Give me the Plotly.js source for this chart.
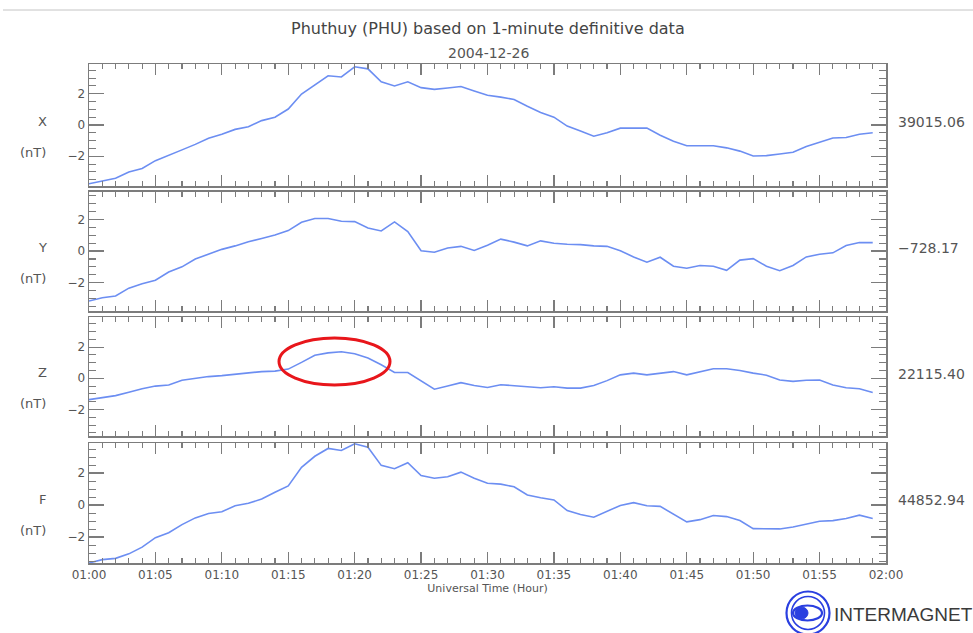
<!DOCTYPE html>
<html>
<head>
<meta charset="utf-8">
<script src="https://cdn.plot.ly/plotly-3.0.1.min.js"></script>
<style>html,body{margin:0;padding:0;background:#fff;}#chart{width:973px;height:633px;}</style>
</head>
<body>
<div id="chart"></div>
<script>
// Minutes after 01:00 UT on 2004-12-26
const minutes = [0,1,2,3,4,5,6,7,8,9,10,11,12,13,14,15,16,17,18,19,20,21,22,23,24,25,26,27,28,29,
                 30,31,32,33,34,35,36,37,38,39,40,41,42,43,44,45,46,47,48,49,50,51,52,53,54,55,56,57,58,59];

// Component variations (nT) relative to the baseline shown at the right
const xValues = [-3.76,-3.59,-3.41,-3.0,-2.78,-2.28,-1.96,-1.59,-1.24,-0.85,-0.59,-0.28,-0.11,0.28,0.5,1.02,1.98,2.54,3.15,3.07,
                 3.72,3.59,2.76,2.5,2.76,2.39,2.28,2.37,2.46,2.17,1.9,1.78,1.63,1.2,0.8,0.5,-0.07,-0.39,-0.72,-0.5,
                 -0.2,-0.2,-0.2,-0.65,-1.04,-1.33,-1.33,-1.33,-1.46,-1.67,-1.98,-1.96,-1.85,-1.74,-1.37,-1.09,-0.83,-0.8,-0.59,-0.5];
const yValues = [-3.17,-2.96,-2.85,-2.35,-2.07,-1.85,-1.33,-1.0,-0.5,-0.17,0.11,0.33,0.59,0.8,1.02,1.3,1.83,2.07,2.07,1.89,
                 1.87,1.46,1.28,1.85,1.24,0.02,-0.07,0.2,0.3,0.04,0.37,0.76,0.57,0.33,0.65,0.5,0.43,0.41,0.33,0.3,
                 0.02,-0.37,-0.7,-0.39,-0.96,-1.09,-0.91,-0.96,-1.22,-0.57,-0.48,-0.96,-1.24,-0.91,-0.37,-0.2,-0.11,0.35,0.54,0.54];
const zValues = [-1.37,-1.24,-1.11,-0.89,-0.67,-0.5,-0.43,-0.13,0.0,0.11,0.17,0.26,0.33,0.43,0.46,0.59,1.02,1.48,1.63,1.7,
                 1.57,1.3,0.87,0.37,0.37,-0.17,-0.7,-0.5,-0.28,-0.46,-0.59,-0.41,-0.46,-0.54,-0.61,-0.54,-0.63,-0.63,-0.46,-0.15,
                 0.22,0.33,0.22,0.33,0.43,0.22,0.41,0.61,0.61,0.5,0.33,0.2,-0.11,-0.2,-0.13,-0.11,-0.43,-0.61,-0.67,-0.91];
const fValues = [-3.62,-3.41,-3.33,-3.05,-2.63,-2.04,-1.73,-1.22,-0.8,-0.53,-0.42,-0.04,0.11,0.38,0.8,1.2,2.36,3.05,3.54,3.41,
                 3.83,3.62,2.48,2.27,2.65,1.85,1.68,1.77,2.06,1.68,1.36,1.31,1.14,0.63,0.46,0.32,-0.34,-0.59,-0.76,-0.38,
                 -0.02,0.15,-0.04,-0.08,-0.59,-1.05,-0.91,-0.65,-0.72,-0.97,-1.47,-1.49,-1.49,-1.37,-1.18,-1.01,-0.97,-0.84,-0.63,-0.84];

const componentNames = ['X','Y','Z','F'];
const baselineLabels = ['39015.06','\u2212728.17','22115.40','44852.94'];
const xTickLabels = ['01:00','01:05','01:10','01:15','01:20','01:25','01:30','01:35','01:40','01:45','01:50','01:55','02:00'];

const W = 973, H = 633;
const px = x => x / W;
const py = y => 1 - y / H;

const times = minutes.map(m => '2004-12-26 01:' + String(m).padStart(2,'0'));
const series = [xValues, yValues, zValues, fValues];

const lineColor = 'rgb(108,142,242)';
const frameColor = '#7c7c7c';
const textColor = '#555555';
const font = 'DejaVu Sans, sans-serif';

// panel pixel boxes (top, bottom)
const panels = [[64,186],[191.5,311],[317,436],[443,563]];
const yRanges = [[-3.9,3.9],[-3.8,3.78],[-3.7,3.93],[-3.62,3.88]];

const traces = series.map((vals, i) => ({
  x: times, y: vals, type: 'scatter', mode: 'lines',
  xaxis: i === 0 ? 'x' : 'x' + (i+1),
  yaxis: i === 0 ? 'y' : 'y' + (i+1),
  line: {color: lineColor, width: 1.6},
  hoverinfo: 'skip', showlegend: false
}));

const layout = {
  width: W, height: H,
  margin: {l:0, r:0, t:0, b:0},
  paper_bgcolor: '#fff', plot_bgcolor: '#fff',
  showlegend: false,
  font: {family: font, color: textColor},
  annotations: [], shapes: []
};

const tickvals = xTickLabels.map((t,k) => (k === 12 ? '2004-12-26 02:00' : '2004-12-26 ' + t));

panels.forEach((p, i) => {
  const xa = i === 0 ? 'xaxis' : 'xaxis' + (i+1);
  const ya = i === 0 ? 'yaxis' : 'yaxis' + (i+1);
  const yId = i === 0 ? 'y' : 'y' + (i+1);
  const xId = i === 0 ? 'x' : 'x' + (i+1);
  layout[xa] = {
    domain: [px(89), px(886)], anchor: yId, type: 'date',
    range: ['2004-12-26 01:00', '2004-12-26 02:00'],
    tickmode: 'array', tickvals: tickvals, ticktext: xTickLabels,
    showline: true, linecolor: frameColor, linewidth: 1.5, mirror: 'allticks',
    ticks: 'inside', ticklen: 11, tickwidth: 1.2, tickcolor: frameColor,
    minor: {dtick: 60000, tick0: '2004-12-26 01:00', ticks: 'inside', ticklen: 5, tickwidth: 1.1, tickcolor: frameColor, showgrid: false},
    showgrid: false, zeroline: false, fixedrange: true,
    showticklabels: i === 3,
    tickfont: {family: font, size: 12, color: textColor}
  };
  if (i === 3) {
    layout[xa].title = {text: 'Universal Time (Hour)', font: {family: font, size: 11, color: textColor}, standoff: 2};
  }
  layout[ya] = {
    domain: [py(p[1]), py(p[0])], anchor: xId, range: yRanges[i],
    tickmode: 'linear', tick0: 0, dtick: 2,
    showline: true, linecolor: frameColor, linewidth: 1.5, mirror: 'allticks',
    ticks: 'inside', ticklen: 15, tickwidth: 1.2, tickcolor: frameColor,
    minor: {dtick: 0.5, tick0: 0, ticks: 'inside', ticklen: 7, tickwidth: 1.1, tickcolor: frameColor, showgrid: false},
    showgrid: false, zeroline: false, fixedrange: true,
    tickfont: {family: font, size: 12, color: textColor}
  };
  const mid = (p[0] + p[1]) / 2;
  layout.annotations.push({xref:'paper', yref:'paper', x: px(42), y: py(mid - 4), text: componentNames[i], showarrow:false,
    font:{family: font, size: 13, color: textColor}, xanchor:'center', yanchor:'middle'});
  layout.annotations.push({xref:'paper', yref:'paper', x: px(33), y: py(mid + 27), text: '(nT)', showarrow:false,
    font:{family: font, size: 13, color: textColor}, xanchor:'center', yanchor:'middle'});
  layout.annotations.push({xref:'paper', yref:'paper', x: px(896), y: py(mid - 3), text: baselineLabels[i], showarrow:false,
    font:{family: font, size: 14, color: textColor}, xanchor:'left', yanchor:'middle'});
});

// Titles
layout.annotations.push({xref:'paper', yref:'paper', x: px(488), y: py(28), text: 'Phuthuy (PHU) based on 1-minute definitive data',
  showarrow:false, font:{family: font, size: 16, color: '#444'}, xanchor:'center', yanchor:'middle'});
layout.annotations.push({xref:'paper', yref:'paper', x: px(488), y: py(53), text: '2004-12-26',
  showarrow:false, font:{family: font, size: 14, color: textColor}, xanchor:'center', yanchor:'middle'});
// Logo text
layout.annotations.push({xref:'paper', yref:'paper', x: px(832), y: py(614), text: 'INTERMAGNET',
  showarrow:false, font:{family: 'Liberation Sans, Arial, sans-serif', size: 19, color: '#3a3a3a'}, xanchor:'left', yanchor:'middle'});

// top separator line
layout.shapes.push({type:'line', xref:'paper', yref:'paper', x0: px(3), x1: px(973), y0: py(10), y1: py(10), line:{color:'#c4c4c4', width:1}});
// red highlight ellipse around Z peak
layout.shapes.push({type:'circle', xref:'paper', yref:'paper', x0: px(279), x1: px(390), y0: py(385), y1: py(338), line:{color:'#e8161b', width:3}});
// INTERMAGNET logo
const lc = [808, 613];
function circ(r, col, w, fill) {
  return {type:'circle', xref:'paper', yref:'paper', x0: px(lc[0]-r), x1: px(lc[0]+r), y0: py(lc[1]+r), y1: py(lc[1]-r),
          line:{color: col, width: w}, fillcolor: fill || 'rgba(0,0,0,0)'};
}
layout.shapes.push(circ(21.5, '#2a3fe0', 2.2));
layout.shapes.push(circ(16.5, '#2a3fe0', 1.6));
layout.shapes.push({type:'circle', xref:'paper', yref:'paper', x0: px(793), x1: px(822), y0: py(620.5), y1: py(605.5),
  line:{color:'#2a3fe0', width:2.2}, fillcolor:'rgba(0,0,0,0)'});
layout.shapes.push({type:'circle', xref:'paper', yref:'paper', x0: px(795), x1: px(808), y0: py(619), y1: py(607),
  line:{color:'#2a3fe0', width:1}, fillcolor:'#2a3fe0'});

Plotly.newPlot('chart', traces, layout, {staticPlot: true, displayModeBar: false});
</script>
</body>
</html>
